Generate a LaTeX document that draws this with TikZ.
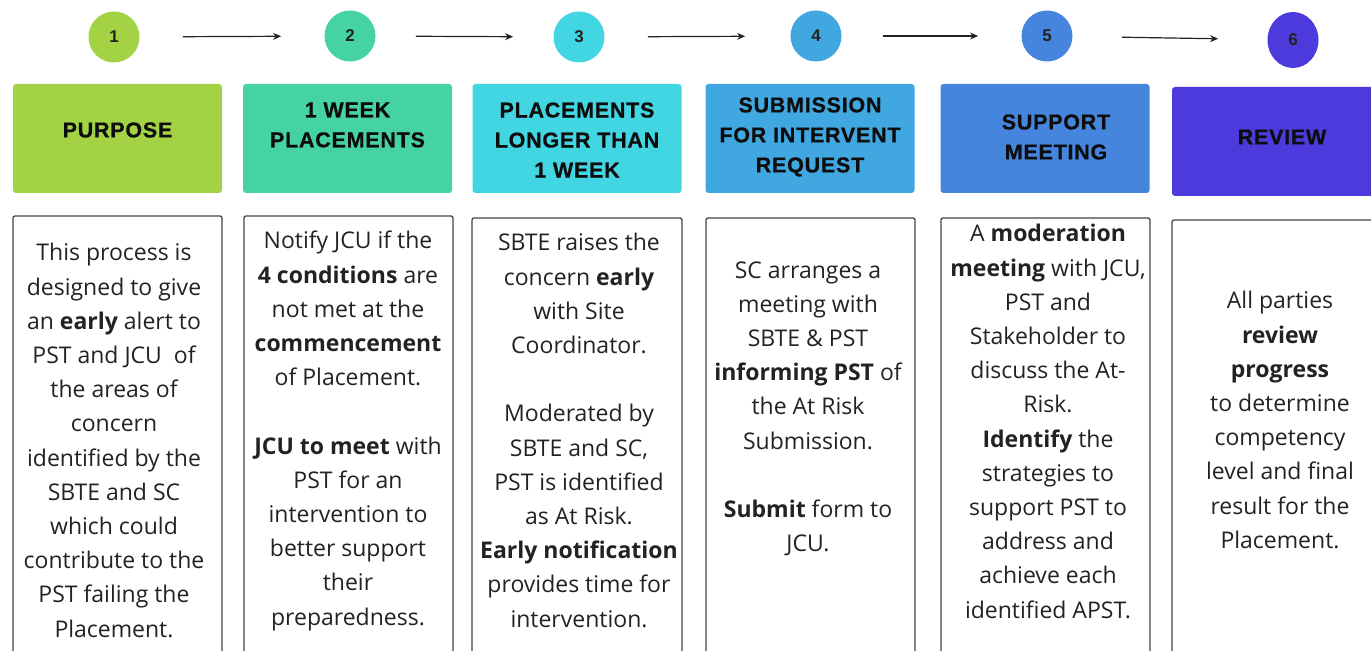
\documentclass[tikz,border=0pt]{standalone}
\usepackage{fontspec}
\setmainfont{Open Sans}
\newfontfamily\headfont{Liberation Sans}[LetterSpace=3.5]
\newfontfamily\headfontb{Liberation Sans Bold}[LetterSpace=3.5,FakeBold=0.6]
\usetikzlibrary{arrows.meta,shapes.geometric}
\definecolor{cA}{HTML}{A3D345}
\definecolor{cB}{HTML}{45D3A2}
\definecolor{cC}{HTML}{42D5E2}
\definecolor{cD}{HTML}{40A7E0}
\definecolor{cE}{HTML}{4585DD}
\definecolor{cF}{HTML}{4C3ADC}
\definecolor{ink}{HTML}{222222}
\definecolor{hink}{HTML}{0D0D0D}
\definecolor{edge}{HTML}{444444}
\tikzset{
  num/.style={circle, minimum size=25.5pt, inner sep=0pt, text=ink,
    font=\headfont\bfseries\fontsize{8.5}{10}\selectfont},
  hbox/.style={rectangle, rounded corners=1.5pt, minimum width=104.5pt,
    minimum height=54.5pt, inner sep=0pt},
  htext/.style={align=center, inner sep=0pt, text=hink,
    font=\headfontb\fontsize{10.75}{15}\selectfont},
  tbox/.style={draw=edge, line width=0.65pt, rounded corners=1pt},
  btext/.style={align=center, inner sep=0pt, anchor=north, text=ink,
    font=\fontsize{11.5}{17.1}\selectfont},
  flow/.style={-{Stealth[length=4pt,width=3.5pt]}, line width=0.6pt, draw=ink,
    shorten <=21.5pt, shorten >=21.5pt}
}
\begin{document}
\begin{tikzpicture}[x=0.5pt,y=-0.5pt]
\path[use as bounding box] (0,0) rectangle (1371,651);
\clip (0,0) rectangle (1371,651);
% number circles
\node[num, fill=cA] (c1) at (114,37) {1};
\node[num, fill=cB] (c2) at (350,36) {2};
\node[num, fill=cC] (c3) at (579,37) {3};
\node[num, fill=cD] (c4) at (816,36) {4};
\node[num, fill=cE] (c5) at (1047,36) {5};
\node[num, ellipse, fill=cF, minimum width=25.5pt, minimum height=28pt] (c6) at (1293,40) {6};
% arrows
\draw[flow] (c1) -- (c2);
\draw[flow, shorten <=20pt, shorten >=20pt] (c2) -- (c3);
\draw[flow, shorten >=22.5pt] (c3) -- (c4);
\draw[flow, shorten <=20.5pt] (c4) -- (c5);
\draw[flow, shorten <=24.5pt, shorten >=24.5pt] (c5) -- (c6);
% header boxes
\node[hbox, fill=cA] (h1) at (117.5,138.5) {};
\node[hbox, fill=cB] (h2) at (347.5,138.5) {};
\node[hbox, fill=cC] (h3) at (577,138.5) {};
\node[hbox, fill=cD] (h4) at (810,138.5) {};
\node[hbox, fill=cE] (h5) at (1045,138.5) {};
\node[hbox, fill=cF, minimum width=110pt] (h6) at (1282,141.5) {};
\node[htext] (h1t) at (117.5,130) {PURPOSE};
\node[htext] (h2t) at (347.5,125) {1 WEEK\\PLACEMENTS};
\node[htext] (h3t) at (577,140) {PLACEMENTS\\LONGER THAN\\1 WEEK};
\node[htext] (h4t) at (810,137) {SUBMISSION\\FOR INTERVENT\\REQUEST};
\node[htext] (h5t) at (1056,137) {SUPPORT\\MEETING};
\node[htext] (h6t) at (1282,137) {REVIEW};
% text boxes
\draw[tbox] (13,680) |- (222,216) -- (222,680);
\draw[tbox] (244,680) |- (453,216) -- (453,680);
\draw[tbox] (472,680) |- (682,218) -- (682,680);
\draw[tbox] (706,680) |- (915,218) -- (915,680);
\draw[tbox] (941,680) |- (1150,218) -- (1150,680);
\draw[tbox] (1172,680) |- (1400,220) -- (1400,680);
% body texts
\node[btext] (b1) at (114,243) {This process is\\designed to give\\an \textbf{early} alert to\\PST and JCU\ \ of\\the areas of\\concern\\identified by the\\SBTE and SC\\which could\\contribute to the\\PST failing the\\Placement.};
\node[btext] (b2) at (348,231) {Notify JCU if the\\\textbf{4 conditions} are\\not met at the\\\textbf{commencement}\\of Placement.\\~\\\textbf{JCU to meet} with\\PST for an\\intervention to\\better support\\their\\preparedness.};
\node[btext] (b3) at (579,233) {SBTE raises the\\concern \textbf{early}\\with Site\\Coordinator.\\~\\Moderated by\\SBTE and SC,\\PST is identified\\as At Risk.\\\textbf{Early notification}\\provides time for\\intervention.};
\node[btext] (b4) at (808,261) {SC arranges a\\meeting with\\SBTE \& PST\\\textbf{informing PST} of\\the At Risk\\Submission.\\~\\\textbf{Submit} form to\\JCU.};
\node[btext] (b5) at (1048,224) {A \textbf{moderation}\\\textbf{meeting} with JCU,\\PST and\\Stakeholder to\\discuss the At-\\Risk.\\\textbf{Identify} the\\strategies to\\support PST to\\address and\\achieve each\\identified APST.};
\node[btext] (b6) at (1280,291) {All parties\\\textbf{review}\\\textbf{progress}\\to determine\\competency\\level and final\\result for the\\Placement.};
\end{tikzpicture}
\end{document}
